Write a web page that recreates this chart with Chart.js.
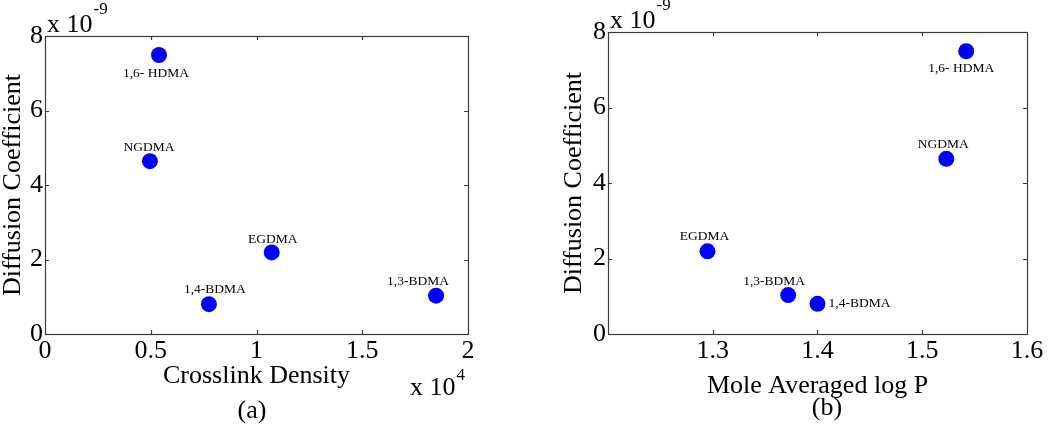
<!DOCTYPE html>
<html>
<head>
<meta charset="utf-8">
<script src="https://cdn.jsdelivr.net/npm/chart.js@4"></script>
<style>
  body { margin: 0; background: #fff; }
  .panel { position: absolute; top: 0; width: 525px; height: 425px; }
</style>
</head>
<body>
<div class="panel" style="left:0"><canvas id="chartA" width="525" height="425"></canvas></div>
<div class="panel" style="left:525px"><canvas id="chartB" width="525" height="425"></canvas></div>
<script>
// monomers, in the same order for every array below
const monomers = ["1,6- HDMA", "NGDMA", "EGDMA", "1,4-BDMA", "1,3-BDMA"];
// diffusion coefficient, in units of 10^-9
const diffusion = [7.49, 4.64, 2.19, 0.80, 1.03];
const crosslinkDensity = [5390, 4960, 10720, 7750, 18490];
const moleAvgLogP = [1.542, 1.523, 1.295, 1.400, 1.372];

const SERIF = "'Liberation Serif', 'Times New Roman', serif";

// where each point label sits relative to its dot
const labelOffsetsA = [[-3, 18], [-1, -14], [1, -13], [6, -15], [-18, -14]];
const labelOffsetsB = [[-5, 17], [-3, -14], [-3, -15], [42, 0], [-14, -14]];

const framePlugin = {
  id: "frame",
  afterDraw(chart, args, opts) {
    const ctx = chart.ctx;
    const { left, right, top, bottom } = chart.chartArea;
    const xs = chart.scales.x, ys = chart.scales.y;
    ctx.save();
    ctx.strokeStyle = "#3a3a3a";
    ctx.lineWidth = 1.2;
    ctx.strokeRect(Math.round(left) + 0.5, Math.round(top) + 0.5, Math.round(right - left), Math.round(bottom - top));
    ctx.beginPath();
    xs.ticks.forEach((t) => {
      const px = Math.round(xs.getPixelForValue(t.value)) + 0.5;
      if (px < left + 2 || px > right - 2) return;
      ctx.moveTo(px, bottom); ctx.lineTo(px, bottom - 4);
      ctx.moveTo(px, top); ctx.lineTo(px, top + 4);
    });
    ys.ticks.forEach((t) => {
      const py = Math.round(ys.getPixelForValue(t.value)) + 0.5;
      if (py < top + 2 || py > bottom - 2) return;
      ctx.moveTo(left, py); ctx.lineTo(left + 4, py);
      ctx.moveTo(right, py); ctx.lineTo(right - 4, py);
    });
    ctx.stroke();

    // point labels
    ctx.fillStyle = "#000";
    ctx.font = "13.5px " + SERIF;
    ctx.textAlign = "center";
    ctx.textBaseline = "middle";
    const meta = chart.getDatasetMeta(0);
    meta.data.forEach((pt, i) => {
      const off = opts.offsets[i];
      ctx.fillText(monomers[i], pt.x + off[0], pt.y + off[1]);
    });

    // exponent above y axis
    ctx.textAlign = "left";
    ctx.textBaseline = "alphabetic";
    ctx.font = "26px " + SERIF;
    const base = "x 10";
    ctx.fillText(base, left + 2, top - 4);
    const w = ctx.measureText(base).width;
    ctx.font = "17px " + SERIF;
    ctx.fillText("-9", left + 2 + w + 1, top - 22);

    // exponent below x axis
    if (opts.xExp) {
      ctx.font = "26px " + SERIF;
      ctx.fillText(base, right - 58, bottom + 61);
      const w2 = ctx.measureText(base).width;
      ctx.font = "17px " + SERIF;
      ctx.fillText(opts.xExp, right - 58 + w2 + 1, bottom + 46);
    }

    // caption
    ctx.font = "26px " + SERIF;
    ctx.textAlign = "center";
    ctx.textBaseline = "middle";
    ctx.fillText(opts.caption, opts.captionX, opts.captionY);
    ctx.restore();
  }
};

function makeChart(id, xValues, xScale, xTitle, layoutPad, yWidth, xHeight, frameOpts) {
  return new Chart(document.getElementById(id), {
    type: "scatter",
    data: {
      datasets: [{
        data: xValues.map((x, i) => ({ x: x, y: diffusion[i] })),
        backgroundColor: "#0000ff",
        borderWidth: 0,
        pointRadius: 8,
        pointHoverRadius: 8,
      }],
    },
    plugins: [framePlugin],
    options: {
      responsive: false,
      animation: false,
      layout: { padding: layoutPad },
      plugins: {
        legend: { display: false },
        tooltip: { enabled: false },
        frame: frameOpts,
      },
      scales: {
        x: Object.assign({
          type: "linear",
          grid: { display: false, drawTicks: false },
          border: { display: false },
          afterFit: (scale) => { scale.height = xHeight; },
          title: {
            display: true,
            text: xTitle,
            color: "#000",
            font: { family: SERIF, size: 26 },
            padding: { top: 0, bottom: 2 },
          },
        }, xScale),
        y: {
          type: "linear",
          min: 0,
          max: 8,
          grid: { display: false, drawTicks: false },
          border: { display: false },
          afterFit: (scale) => { scale.width = yWidth; },
          ticks: {
            stepSize: 2,
            padding: 2,
            color: "#000",
            font: { family: SERIF, size: 26 },
          },
          title: {
            display: true,
            text: "Diffusion Coefficient",
            color: "#000",
            font: { family: SERIF, size: 26, lineHeight: 1 },
            padding: 0,
          },
        },
      },
    },
  });
}

makeChart("chartA", crosslinkDensity, {
  min: 0,
  max: 20000,
  ticks: {
    stepSize: 5000,
    padding: 2,
    maxRotation: 0,
    color: "#000",
    font: { family: SERIF, size: 26 },
    callback: (v) => String(v / 10000),
  },
}, "Crosslink Density", { left: 0, top: 36, right: 57, bottom: 31 }, 45, 60,
  { offsets: labelOffsetsA, xExp: "4", caption: "(a)", captionX: 252, captionY: 411 });

makeChart("chartB", moleAvgLogP, {
  min: 1.2,
  max: 1.6,
  ticks: {
    stepSize: 0.1,
    padding: 2,
    maxRotation: 0,
    color: "#000",
    font: { family: SERIF, size: 26 },
    callback: (v) => (Math.abs(v - 1.2) < 1e-6 ? "" : v.toFixed(1)),
  },
}, "Mole Averaged log P", { left: 36, top: 32, right: 23, bottom: 21 }, 47, 70,
  { offsets: labelOffsetsB, xExp: null, caption: "(b)", captionX: 302, captionY: 408 });
</script>
</body>
</html>
